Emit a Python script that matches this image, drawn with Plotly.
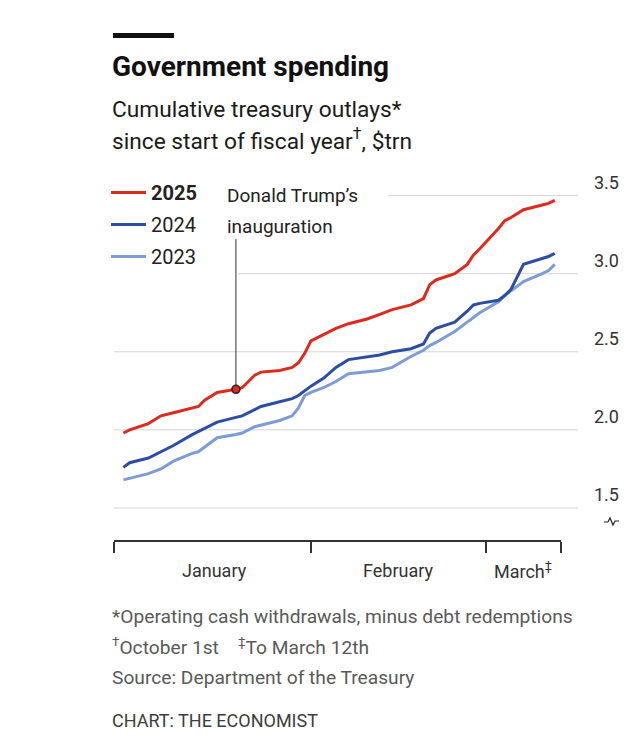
import plotly.graph_objects as go

# ---------------- data ----------------
dates = ["2025-01-02", "2025-01-03", "2025-01-06", "2025-01-08", "2025-01-10",
         "2025-01-13", "2025-01-14", "2025-01-15", "2025-01-17", "2025-01-20",
         "2025-01-21", "2025-01-23", "2025-01-24", "2025-01-27", "2025-01-29",
         "2025-01-30", "2025-01-31", "2025-02-01", "2025-02-03", "2025-02-05",
         "2025-02-07", "2025-02-10", "2025-02-12", "2025-02-14", "2025-02-17",
         "2025-02-19", "2025-02-20", "2025-02-21", "2025-02-24", "2025-02-26",
         "2025-02-27", "2025-02-28", "2025-03-03", "2025-03-04", "2025-03-05",
         "2025-03-07", "2025-03-10", "2025-03-11", "2025-03-12"]

outlays_2025 = [1.98, 2.00, 2.04, 2.09, 2.11, 2.14, 2.15, 2.19, 2.24, 2.26,
                2.27, 2.35, 2.37, 2.38, 2.40, 2.43, 2.49, 2.57, 2.61, 2.65,
                2.68, 2.71, 2.74, 2.77, 2.80, 2.84, 2.93, 2.96, 3.00, 3.06,
                3.12, 3.16, 3.29, 3.34, 3.36, 3.41, 3.44, 3.45, 3.47]

outlays_2024 = [1.76, 1.79, 1.82, 1.86, 1.90, 1.97, 1.99, 2.01, 2.05, 2.08,
                2.09, 2.13, 2.15, 2.18, 2.20, 2.22, 2.25, 2.28, 2.33, 2.40,
                2.45, 2.47, 2.48, 2.50, 2.52, 2.55, 2.62, 2.65, 2.69, 2.76,
                2.80, 2.81, 2.83, 2.86, 2.90, 3.06, 3.10, 3.11, 3.13]

outlays_2023 = [1.68, 1.69, 1.72, 1.75, 1.80, 1.85, 1.86, 1.89, 1.95, 1.97,
                1.98, 2.02, 2.03, 2.06, 2.09, 2.14, 2.22, 2.24, 2.27, 2.31,
                2.36, 2.37, 2.38, 2.40, 2.47, 2.51, 2.54, 2.56, 2.63, 2.69,
                2.72, 2.75, 2.82, 2.86, 2.89, 2.95, 3.00, 3.02, 3.06]

series_names = ["2025", "2024", "2023"]
y_ticks = [1.5, 2.0, 2.5, 3.0, 3.5]
y_tick_labels = ["1.5", "2.0", "2.5", "3.0", "3.5"]
x_range = ["2024-12-31 12:00", "2025-03-13"]
x_tick_dates = [x_range[0], "2025-02-01", "2025-03-01", x_range[1]]
month_labels = ["January", "February", "March<sup>‡</sup>"]
month_label_dates = ["2025-01-16 12:00", "2025-02-15", "2025-03-07"]
inauguration_date = "2025-01-20"

# ---------------- styling ----------------
# The page body has an 8px default margin, so the figure is 8px smaller
# and every reference pixel position is mapped through px()/py().
OFF = 8
W, H = 640 - OFF, 752 - OFF
PLOT_L, PLOT_R, PLOT_T, PLOT_B = 114, 561, 180, 540   # reference pixels
ML, MT = PLOT_L - OFF, PLOT_T - OFF
MR, MB = W - (PLOT_R - OFF), H - (PLOT_B - OFF)
PW, PH = PLOT_R - PLOT_L, PLOT_B - PLOT_T
FONT = "Roboto, 'Noto Sans', sans-serif"
RED = "#dc2a1f"
BLUE = "#2d4ea0"
LIGHT = "#7e9cd4"
GRID = "#d4d4d4"
AXIS = "#333333"


def px(x):  # reference pixel -> paper x
    return (x - PLOT_L) / PW


def py(y):  # reference pixel -> paper y
    return (PLOT_B - y) / PH


fig = go.Figure()

traces = [(series_names[2], outlays_2023, LIGHT, 3),
          (series_names[1], outlays_2024, BLUE, 2),
          (series_names[0], outlays_2025, RED, 1)]
for name, vals, col, rank in traces:
    fig.add_trace(go.Scatter(
        x=dates, y=vals, mode="lines", name=("<b>%s</b>" % name) if rank == 1 else name,
        line=dict(color=col, width=3), legendrank=rank, legendgroup=name,
    ))

# inauguration marker on the 2025 line
i_inaug = dates.index(inauguration_date)
fig.add_trace(go.Scatter(
    x=[dates[i_inaug]], y=[outlays_2025[i_inaug]], mode="markers", showlegend=False,
    marker=dict(size=8, color=RED, line=dict(color="#222222", width=1.5)),
))

shapes = []
# gridlines (interrupted by the legend / annotation at top)
grid_start_px = [PLOT_L, PLOT_L, PLOT_L, 238, 388]
for v, xs in zip(y_ticks, grid_start_px):
    shapes.append(dict(type="line", xref="paper", yref="y", x0=px(xs), x1=px(578),
                       y0=v, y1=v, line=dict(color=GRID, width=1), layer="below"))
# annotation pointer
shapes.append(dict(type="line", xref="x", yref="paper", x0=inauguration_date, x1=inauguration_date,
                   y0=py(386), y1=py(239), line=dict(color="#333333", width=1)))
# top black bar
shapes.append(dict(type="rect", xref="paper", yref="paper", x0=px(113), x1=px(174),
                   y0=py(38), y1=py(33), fillcolor="#111111", line=dict(width=0)))
# axis-break squiggle
pts = [(604, 522), (608, 522), (610, 518), (613, 525), (615, 521), (619, 521)]
path = "M " + " L ".join("%.4f,%.4f" % (px(a), py(b)) for a, b in pts)
shapes.append(dict(type="path", xref="paper", yref="paper", path=path,
                   line=dict(color="#222222", width=1.2)))

ann = []
# y tick labels on the right, above the gridlines
for v, lab in zip(y_ticks, y_tick_labels):
    ann.append(dict(xref="paper", yref="y", x=px(621), y=v, text=lab, showarrow=False,
                    xanchor="right", yanchor="middle", yshift=13,
                    font=dict(family=FONT, size=18, color="#333333")))
# month labels
for d, lab in zip(month_label_dates, month_labels):
    ann.append(dict(xref="x", yref="paper", x=d, y=py(570), text=lab, showarrow=False,
                    xanchor="center", yanchor="middle",
                    font=dict(family=FONT, size=18, color="#333333")))


def text(xp, yp, s, size, color):
    ann.append(dict(xref="paper", yref="paper", x=px(xp), y=py(yp), text=s, showarrow=False,
                    xanchor="left", yanchor="middle",
                    font=dict(family=FONT, size=size, color=color)))


text(110, 66, "<b>Government spending</b>", 28, "#111111")
text(110, 109, "Cumulative treasury outlays*", 22.7, "#1a1a1a")
text(110, 139, "since start of fiscal year<sup>†</sup>, $trn", 22.7, "#1a1a1a")
text(225, 196, "Donald Trump’s", 19, "#222222")
text(225, 226, "inauguration", 19, "#222222")
text(110, 616, "*Operating cash withdrawals, minus debt redemptions", 19.2, "#595959")
text(110, 646, "<sup>†</sup>October 1st\u00a0\u00a0\u00a0\u00a0<sup>‡</sup>To March 12th", 19.2, "#595959")
text(110, 677, "Source: Department of the Treasury", 19.2, "#595959")
text(110, 720, "CHART: THE ECONOMIST", 18, "#3d3d3d")

fig.update_layout(
    width=W, height=H,
    margin=dict(l=ML, r=MR, t=MT, b=MB, autoexpand=False),
    paper_bgcolor="white", plot_bgcolor="white",
    font=dict(family=FONT, size=18, color="#333333"),
    showlegend=True,
    legend=dict(x=px(106), y=py(173), xanchor="left", yanchor="top",
                font=dict(family=FONT, size=20, color="#222222"),
                bgcolor="rgba(0,0,0,0)", tracegroupgap=3, itemwidth=35,
                traceorder="grouped"),
    xaxis=dict(type="date", range=x_range, showgrid=False,
               zeroline=False, showline=True, linecolor=AXIS, linewidth=1.5,
               tickmode="array", tickvals=x_tick_dates, ticks="outside",
               ticklen=11, tickwidth=1.5, tickcolor=AXIS, showticklabels=False),
    yaxis=dict(range=[1.295, 3.6], showgrid=False, zeroline=False,
               showticklabels=False, ticks=""),
    shapes=shapes, annotations=ann,
)

fig.write_html("out.html")
